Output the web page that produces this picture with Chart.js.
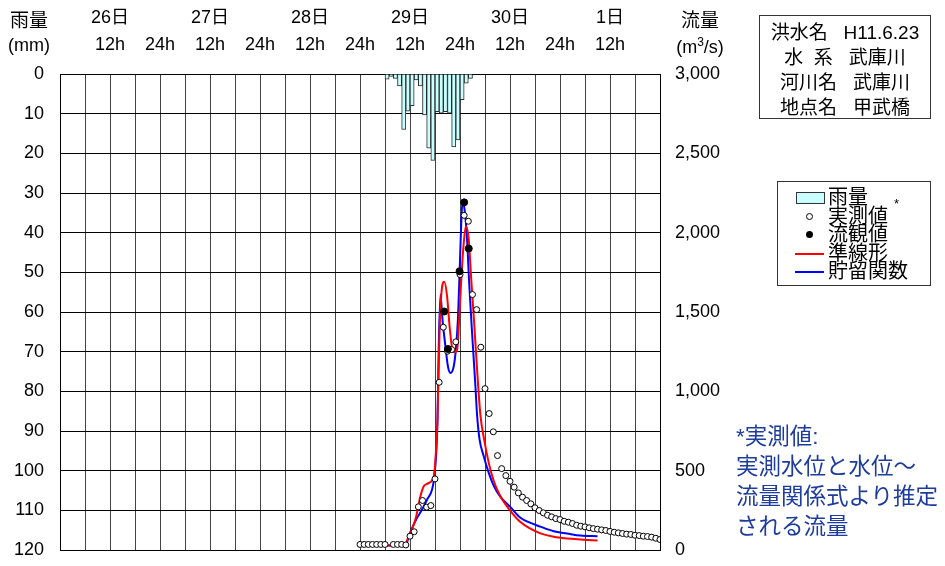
<!DOCTYPE html>
<html lang="ja">
<head>
<meta charset="utf-8">
<script src="https://cdn.jsdelivr.net/npm/chart.js@4.4.0/dist/chart.umd.min.js"></script>
<style>
  body { margin: 0; background: #fff; font-family: 'Liberation Sans', Arial, 'Noto Sans CJK JP', sans-serif; color: #000; }
  #wrap { position: relative; width: 945px; height: 566px; overflow: hidden; }
  #chart { position: absolute; left: 0; top: 0; }
  .t { position: absolute; font-size: 19px; white-space: nowrap; transform: translate(-50%, -50%); }
  #info { position: absolute; left: 759px; top: 15px; width: 172px; height: 104px; border: 1px solid #333;
          box-sizing: border-box; text-align: center; font-size: 19px; line-height: 25px; padding-top: 4px; }
  #legend { position: absolute; left: 777px; top: 181px; width: 154px; height: 105px; border: 1px solid #333;
            box-sizing: border-box; font-size: 20px; line-height: 18.5px; padding-top: 6px; }
  #legend .row { position: relative; height: 18.5px; padding-left: 50px; }
  #legend .mk { position: absolute; left: 17px; top: 0; width: 30px; height: 18.5px; }
  #note { position: absolute; left: 736px; top: 422px; font-size: 22.5px; line-height: 30px; color: #1d3c9e; }
</style>
</head>
<body>
<div id="wrap">
  <canvas id="chart" width="945" height="566"></canvas>
  <div class="t" style="left:29px; top:18px;">雨量</div>
  <div class="t" style="left:29px; top:45px; font-size:18px;">(mm)</div>
  <div class="t" style="left:700px; top:18px;">流量</div>
  <div class="t" style="left:700px; top:46px; font-size:18px;">(m<sup style="font-size:12px;">3</sup>/s)</div>
  <div id="info">
    <div>洪水名&nbsp;&nbsp;&nbsp;H11.6.23</div>
    <div>水&nbsp;&nbsp;系&nbsp;&nbsp;&nbsp;武庫川</div>
    <div>河川名&nbsp;&nbsp;&nbsp;武庫川</div>
    <div>地点名&nbsp;&nbsp;&nbsp;甲武橋</div>
  </div>
  <div id="legend"></div>
  <div style="position:absolute; left:894px; top:196px; font-size:13px;">*</div>
  <div id="note">*実測値:<br>実測水位と水位～<br>流量関係式より推定<br>される流量</div>
</div>
<script>
// 横軸: 26日 0時からの経過時間 (h)
const dayLabels = ['26日', '27日', '28日', '29日', '30日', '1日'];

// 時間雨量 (mm) 29日6時から
const rainStartHour = 78;
const rainValues = [1.3, 0.6, 1.1, 3.0, 14.0, 9.4, 8.0, 1.5, 3.0, 10.3, 18.7, 21.8, 9.5, 9.9, 9.5, 9.9, 18.4, 16.6, 6.5, 2.3, 1.1];

// 実測値 (m3/s) 29日0時から毎時, null は欠測
const obsStartHour = 72;
const obsFlow = [35, 35, 35, 35, 35, 35, 35, null, 35, 35, 35, 32,
  87, 115, 272, 312, 270, 280, 448, 1057, 1404, 1253, 1263, 1312, 1736, 2109, 2072, 1610, 1515, 1278, 1017, 860,
  745, 595, 513, 469, 433, 396, 360, 333, 312, 291, 266, 249, 234, 219, 209, 198, 192, 181, 175, 167,
  156, 150, 146, 140, 135, 131, 127, 123, 117, 112, 108, 104, 100, 98, 93, 91, 87, 85, 81, 74, 66];

// 流観値
const ryuHours = [92.2, 93.1, 95.9, 97.0, 98.1];
const ryuFlow = [1503, 1267, 1757, 2191, 1900];

// 準線形 (計算値)
const linHours = [72, 83, 83.3, 84.1, 85.3, 86.5, 87.3, 88.1, 89.3, 89.8, 90.3, 90.6, 91.1, 91.8, 92.2, 92.9, 93.5, 94.1, 94.7,
  95.3, 95.8, 96.3, 96.9, 97.4, 98.1, 98.7, 99.4, 100.1, 100.9, 101.8, 102.9, 104.1, 105.7, 108, 110.5, 112.9, 115.3,
  118.5, 121.7, 124.9, 129];
const linFlow = [28, 30, 60, 108, 192, 339, 402, 417, 440, 476, 654, 822, 1389, 1673, 1690, 1599, 1410, 1274, 1246,
  1263, 1452, 1704, 1935, 2040, 1956, 1704, 1431, 1137, 850, 696, 549, 435, 339, 250, 176, 135, 105,
  83, 72, 66, 60];

// 貯留関数 (計算値)
const stoHours = [72, 83, 83.7, 84.9, 85.7, 86.9, 88.1, 89.3, 89.8, 90.3, 90.6, 90.9, 91.3, 91.8, 92.5, 93.1, 93.7, 94.5,
  95.0, 95.5, 95.9, 96.3, 96.6, 97.1, 97.7, 98.2, 98.9, 99.7, 100.1, 100.7, 101.7, 102.9, 104.1, 105.7, 108.1, 110.5,
  112.9, 115.3, 118.5, 121.7, 124.9, 129];
const stoFlow = [28, 30, 87, 161, 203, 255, 318, 381, 455, 612, 822, 1284, 1610, 1452, 1284, 1158, 1116, 1158,
  1263, 1452, 1746, 2061, 2197, 2145, 1956, 1683, 1368, 1032, 850, 696, 591, 486, 405, 335, 270, 203,
  171, 147, 118, 104, 91, 87];

const rainColor = '#c8ffff';
const toXY = (xs, ys) => xs.map((x, i) => ({ x: x, y: ys[i] }));
const fnt = { family: "'Liberation Sans', Arial, 'Noto Sans CJK JP', sans-serif", size: 18 };

const datasets = [
  {
    type: 'bar', label: '雨量',
    data: rainValues.map((v, i) => ({ x: rainStartHour + i + 0.5, y: v })),
    xAxisID: 'x', yAxisID: 'y',
    backgroundColor: rainColor, borderColor: '#2b2b2b', borderWidth: 1,
    barPercentage: 1, categoryPercentage: 1, order: 5
  },
  {
    type: 'line', label: '実測値',
    data: obsFlow.map((v, i) => ({ x: obsStartHour + i, y: v })),
    xAxisID: 'x', yAxisID: 'yQ', showLine: false,
    pointRadius: 3, pointBackgroundColor: '#fff', pointBorderColor: '#000', pointBorderWidth: 1, order: 1
  },
  {
    type: 'line', label: '流観値',
    data: toXY(ryuHours, ryuFlow),
    xAxisID: 'x', yAxisID: 'yQ', showLine: false,
    pointRadius: 3.5, pointBackgroundColor: '#000', pointBorderColor: '#000', order: 0
  },
  {
    type: 'line', label: '準線形',
    data: toXY(linHours, linFlow),
    xAxisID: 'x', yAxisID: 'yQ', borderColor: '#ff0000', borderWidth: 2,
    pointRadius: 0, cubicInterpolationMode: 'monotone', order: 2
  },
  {
    type: 'line', label: '貯留関数',
    data: toXY(stoHours, stoFlow),
    xAxisID: 'x', yAxisID: 'yQ', borderColor: '#0000ff', borderWidth: 2,
    pointRadius: 0, cubicInterpolationMode: 'monotone', order: 3
  }
];

// 縦軸の上下余白を消して描画領域を固定
const fixV = w => s => { s.width = w; s.paddingTop = 0; s.paddingBottom = 0; };

new Chart(document.getElementById('chart'), {
  type: 'line',
  data: { datasets: datasets },
  options: {
    responsive: false,
    animation: false,
    layout: { padding: 0 },
    plugins: { legend: { display: false }, tooltip: { enabled: false } },
    scales: {
      x: {
        type: 'linear', position: 'bottom', min: 0, max: 144, offset: false,
        ticks: { stepSize: 6, display: false },
        grid: { color: '#444', lineWidth: 1, drawTicks: false, offset: false },
        border: { color: '#000', width: 1 },
        afterFit: s => { s.height = 16; }
      },
      xTop: {
        type: 'linear', position: 'top', min: 0, max: 144,
        ticks: {
          stepSize: 12, autoSkip: false, maxRotation: 0, color: '#000', padding: 15.5,
          font: Object.assign({}, fnt, { lineHeight: 1.5 }),
          callback: v => {
            if (v % 24 === 12) return [dayLabels[(v - 12) / 24], '12h'];
            if (v > 0 && v < 144) return ['', '24h'];
            return '';
          }
        },
        grid: { display: false, drawTicks: false },
        border: { color: '#000', width: 1 },
        afterFit: s => { s.height = 74; }
      },
      y: {
        position: 'left', reverse: true, min: 0, max: 120,
        ticks: { stepSize: 10, color: '#000', padding: 16, font: fnt },
        grid: { color: '#000', lineWidth: 1, drawTicks: false },
        border: { color: '#000', width: 1 },
        afterFit: fixV(60)
      },
      yQ: {
        position: 'right', min: 0, max: 3000,
        ticks: {
          stepSize: 500, color: '#000', padding: 15, font: fnt,
          callback: v => v.toLocaleString('en-US')
        },
        grid: { display: false, drawTicks: false },
        border: { color: '#000', width: 1 },
        afterFit: fixV(285)
      }
    }
  }
});

// 凡例 (HTML)
const legendItems = [
  { text: '雨量', mk: '<div style="position:absolute;left:1px;top:4px;width:27px;height:10px;border:1px solid #333;background:' + rainColor + '"></div>' },
  { text: '実測値', mk: '<div style="position:absolute;left:11px;top:6px;width:5px;height:5px;border:1px solid #000;border-radius:50%;background:#fff"></div>' },
  { text: '流観値', mk: '<div style="position:absolute;left:11px;top:6px;width:7px;height:7px;border-radius:50%;background:#000"></div>' },
  { text: '準線形', mk: '<div style="position:absolute;left:0;top:9px;width:29px;height:2px;background:#ff0000"></div>' },
  { text: '貯留関数', mk: '<div style="position:absolute;left:0;top:9px;width:29px;height:2px;background:#0000ff"></div>' }
];
document.getElementById('legend').innerHTML = legendItems.map(it =>
  '<div class="row"><div class="mk">' + it.mk + '</div>' + it.text + '</div>').join('');
</script>
</body>
</html>
